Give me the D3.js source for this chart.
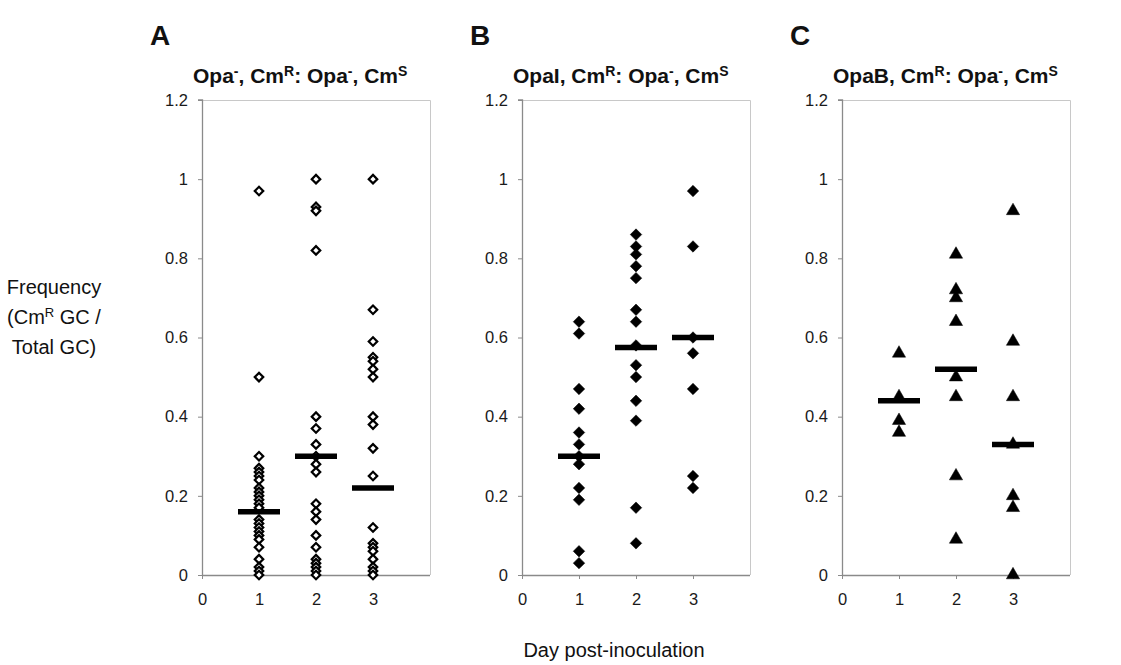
<html>
<head>
<script src="https://cdn.jsdelivr.net/npm/d3@7"></script>
<style>
  body { margin: 0; background: #fff; font-family: "Liberation Sans", Arial, Helvetica, sans-serif; }
  svg { display: block; }
</style>
</head>
<body>
<svg id="chart"></svg>
<script>
// values, one array per panel and day
const days = [1, 2, 3];
const xTicks = [0, 1, 2, 3];
const yTicks = [0, 0.2, 0.4, 0.6, 0.8, 1, 1.2];
const panelLetters = ["A", "B", "C"];

// A: Opa-, CmR : Opa-, CmS  (open diamonds)
const aDay1 = [0.97, 0.50, 0.30, 0.27, 0.26, 0.25, 0.24, 0.22, 0.21, 0.20, 0.19, 0.18, 0.17,
               0.14, 0.13, 0.12, 0.11, 0.10, 0.09, 0.07, 0.04, 0.02, 0.01, 0];
const aDay2 = [1.0, 0.93, 0.92, 0.82, 0.40, 0.37, 0.33, 0.30, 0.28, 0.26, 0.18, 0.16, 0.14,
               0.10, 0.07, 0.04, 0.03, 0.02, 0.01, 0];
const aDay3 = [1.0, 0.67, 0.59, 0.55, 0.54, 0.52, 0.50, 0.40, 0.38, 0.32, 0.25, 0.12, 0.08,
               0.07, 0.06, 0.04, 0.02, 0.01, 0];
const aMedians = [0.16, 0.30, 0.22];

// B: OpaI, CmR : Opa-, CmS  (filled diamonds)
const bDay1 = [0.64, 0.61, 0.47, 0.42, 0.36, 0.33, 0.30, 0.28, 0.22, 0.19, 0.06, 0.03];
const bDay2 = [0.86, 0.83, 0.81, 0.78, 0.75, 0.67, 0.64, 0.58, 0.53, 0.50, 0.44, 0.39, 0.17, 0.08];
const bDay3 = [0.97, 0.83, 0.60, 0.56, 0.47, 0.25, 0.22];
const bMedians = [0.30, 0.575, 0.60];

// C: OpaB, CmR : Opa-, CmS  (filled triangles)
const cDay1 = [0.56, 0.45, 0.39, 0.36];
const cDay2 = [0.81, 0.72, 0.70, 0.64, 0.50, 0.45, 0.25, 0.09];
const cDay3 = [0.92, 0.59, 0.45, 0.33, 0.20, 0.17, 0];
const cMedians = [0.44, 0.52, 0.33];

const panels = [
  { letter: panelLetters[0], strain: "Opa", strainSup: "-", series: [aDay1, aDay2, aDay3], medians: aMedians, marker: "open" },
  { letter: panelLetters[1], strain: "OpaI", strainSup: "", series: [bDay1, bDay2, bDay3], medians: bMedians, marker: "diamond" },
  { letter: panelLetters[2], strain: "OpaB", strainSup: "", series: [cDay1, cDay2, cDay3], medians: cMedians, marker: "triangle" }
];

function getConfig() {
  let width = 1121;
  let height = 665;
  let plotTop = 100;
  let plotBottom = 575;
  let plotWidth = 228;
  let lefts = [202, 522, 842];
  let container = d3.select("#chart").attr("width", width).attr("height", height);
  return { width, height, plotTop, plotBottom, plotWidth, lefts, container };
}

function getScales(config, left) {
  let xScale = d3.scaleLinear().domain([0, 4]).range([left, left + config.plotWidth]);
  let yScale = d3.scaleLinear().domain([0, 1.2]).range([config.plotBottom, config.plotTop]);
  return { xScale, yScale };
}

function drawTitle(g, panel, xScale) {
  let t = g.append("text")
    .attr("x", xScale(0) - 9)
    .attr("y", 83)
    .attr("font-size", 21)
    .attr("font-weight", "bold")
    .attr("fill", "#111");
  let parts = [
    [panel.strain, false], [panel.strainSup, true], [", Cm", false], ["R", true],
    [": Opa", false], ["-", true], [", Cm", false], ["S", true]
  ];
  let raised = false;
  parts.forEach(([txt, sup]) => {
    if (!txt) return;
    let dy = 0;
    if (sup && !raised) { dy = -7; raised = true; }
    else if (!sup && raised) { dy = 7; raised = false; }
    t.append("tspan")
      .attr("dy", dy)
      .attr("font-size", sup ? 14 : 21)
      .text(txt);
  });

  g.append("text")
    .attr("x", xScale(0) - 52)
    .attr("y", 45)
    .attr("font-size", 28)
    .attr("font-weight", "bold")
    .attr("fill", "#111")
    .text(panel.letter);
}

function drawAxes(g, scales, config) {
  let { xScale, yScale } = scales;
  let right = xScale(4);

  // light frame on top and right
  g.append("path")
    .attr("d", `M${xScale(0)},${config.plotTop + 0.5}H${right + 0.5}V${config.plotBottom}`)
    .attr("fill", "none")
    .attr("stroke", "#c8c8c8")
    .attr("stroke-width", 1);

  let axisY = d3.axisLeft(yScale).tickValues(yTicks).tickSize(4).tickFormat(d => d3.format("~g")(d));
  let gy = g.append("g").attr("transform", `translate(${xScale(0)},0)`).call(axisY);

  let axisX = d3.axisBottom(xScale).tickValues(xTicks).tickSize(4).tickFormat(d => d);
  let gx = g.append("g").attr("transform", `translate(0,${config.plotBottom})`).call(axisX);

  [gx, gy].forEach(a => {
    a.select(".domain").attr("stroke", "#8a8a8a").attr("stroke-width", 1.3);
    a.selectAll(".tick line").attr("stroke", "#8a8a8a");
    a.selectAll(".tick text")
      .attr("fill", "#1a1a1a")
      .attr("font-size", 16.5)
      .attr("font-family", "Liberation Sans, Arial, sans-serif");
  });
  gx.select(".domain").attr("d", `M${xScale(0)},0.5H${right}`);
  gy.select(".domain").attr("d", `M-4,${yScale(1.2)}H0.5V${yScale(0)}`);
  gy.selectAll(".tick text").attr("x", -14);
  gx.selectAll(".tick text").attr("y", 18);
}

function drawPoints(g, panel, scales) {
  let { xScale, yScale } = scales;
  let points = [];
  panel.series.forEach((vals, i) => vals.forEach(v => points.push({ day: days[i], v })));

  let symbol;
  if (panel.marker === "triangle") symbol = d3.symbol().type(d3.symbolTriangle).size(76);
  else if (panel.marker === "diamond") symbol = d3.symbol().type(d3.symbolSquare).size(66);
  else symbol = d3.symbol().type(d3.symbolSquare).size(36);

  g.selectAll(".pt").data(points).enter().append("path")
    .attr("class", "pt")
    .attr("d", symbol)
    .attr("transform", d => {
      let rot = panel.marker === "triangle" ? "" : " rotate(45)";
      return `translate(${xScale(d.day)},${yScale(d.v)})${rot}`;
    })
    .attr("fill", panel.marker === "open" ? "#fff" : "#000")
    .attr("stroke", "#000")
    .attr("stroke-width", panel.marker === "open" ? 2.2 : 0.5);

  g.selectAll(".median").data(panel.medians).enter().append("line")
    .attr("class", "median")
    .attr("x1", (d, i) => xScale(days[i]) - 21)
    .attr("x2", (d, i) => xScale(days[i]) + 21)
    .attr("y1", d => yScale(d))
    .attr("y2", d => yScale(d))
    .attr("stroke", "#000")
    .attr("stroke-width", 5.5);
}

function drawLabels(config) {
  let c = config.container;
  let yl = c.append("text")
    .attr("text-anchor", "middle")
    .attr("font-size", 20)
    .attr("fill", "#111");
  yl.append("tspan").attr("x", 54).attr("y", 294).text("Frequency");
  let l2 = yl.append("tspan").attr("x", 54).attr("y", 324);
  l2.append("tspan").text("(Cm");
  l2.append("tspan").attr("font-size", 13).attr("dy", -7).text("R");
  l2.append("tspan").attr("dy", 7).text(" GC /");
  yl.append("tspan").attr("x", 54).attr("y", 354).text("Total GC)");

  c.append("text")
    .attr("x", 614)
    .attr("y", 657)
    .attr("text-anchor", "middle")
    .attr("font-size", 20)
    .attr("fill", "#111")
    .text("Day post-inoculation");
}

function drawChart() {
  let config = getConfig();
  config.container.append("rect").attr("width", config.width).attr("height", config.height).attr("fill", "#fff");
  panels.forEach((panel, i) => {
    let scales = getScales(config, config.lefts[i]);
    let g = config.container.append("g");
    drawAxes(g, scales, config);
    drawPoints(g, panel, scales);
    drawTitle(g, panel, scales.xScale);
  });
  drawLabels(config);
}

drawChart();
</script>
</body>
</html>
